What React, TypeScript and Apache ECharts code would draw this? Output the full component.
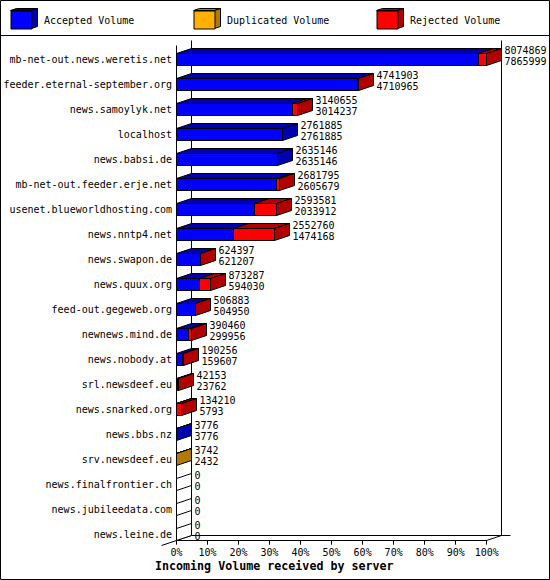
import React, { useEffect, useRef } from "react";
import * as echarts from "echarts";

const servers = [
  "mb-net-out.news.weretis.net", "feeder.eternal-september.org", "news.samoylyk.net", "localhost",
  "news.babsi.de", "mb-net-out.feeder.erje.net", "usenet.blueworldhosting.com", "news.nntp4.net",
  "news.swapon.de", "news.quux.org", "feed-out.gegeweb.org", "newnews.mind.de", "news.nobody.at",
  "srl.newsdeef.eu", "news.snarked.org", "news.bbs.nz", "srv.newsdeef.eu", "news.finalfrontier.ch",
  "news.jubileedata.com", "news.leine.de",
];
const totalVolume = [8074869, 4741903, 3140655, 2761885, 2635146, 2681795, 2593581, 2552760, 624397, 873287, 506883, 390460, 190256, 42153, 134210, 3776, 3742, 0, 0, 0];
const acceptedVolume = [7865999, 4710965, 3014237, 2761885, 2635146, 2605679, 2033912, 1474168, 621207, 594030, 504950, 299956, 159607, 23762, 5793, 3776, 2432, 0, 0, 0];
const duplicatedVolume = [0, 0, 0, 0, 0, 0, 0, 0, 0, 0, 0, 0, 0, 0, 0, 0, 1310, 0, 0, 0];
const rejectedVolume = [208870, 30938, 126418, 0, 0, 76116, 559669, 1078592, 3190, 279257, 1933, 90504, 30649, 18391, 128417, 0, 0, 0, 0, 0];

const FONT = "'DejaVu Sans Mono', 'Liberation Mono', monospace";
const DEPTH_X = 15;
const DEPTH_Y = 5;
const BAR_HALF = 6;
const maxVolume = Math.max(...totalVolume);

const kinds = [
  { name: "Accepted Volume", values: acceptedVolume, front: "#0000ff", dark: "#0000b0", legendX: 10.5 },
  { name: "Duplicated Volume", values: duplicatedVolume, front: "#ffb000", dark: "#b07a00", legendX: 193.5 },
  { name: "Rejected Volume", values: rejectedVolume, front: "#ff0000", dark: "#b00000", legendX: 376.5 },
];

const pct = (v: number) => (v / maxVolume) * 100;
const snap = (v: number) => Math.floor(v) + 0.5;

function buildSeries() {
  return kinds.map((kind, k) => {
    const data = servers.map((_, i) => {
      const before = kinds.slice(0, k).reduce((s, o) => s + o.values[i], 0);
      const later = kinds.slice(k + 1).reduce((s, o) => s + o.values[i], 0);
      return [pct(before), pct(before + kind.values[i]), i, later === 0 && (kind.values[i] > 0 || k === 0) ? 1 : 0];
    });
    return {
      type: "custom",
      name: kind.name,
      coordinateSystem: "cartesian2d",
      clip: false,
      itemStyle: { color: kind.front },
      encode: { x: [0, 1], y: 2 },
      data,
      renderItem: (_p: any, api: any) => {
        const from = api.value(0);
        const to = api.value(1);
        const row = api.value(2);
        const isLast = api.value(3) === 1;
        const hasSize = kind.values[row] > 0;
        if (!hasSize && !isLast) return { type: "group", children: [] };
        const a = api.coord([from, row]);
        const b = api.coord([to, row]);
        const x0 = snap(a[0]);
        const x1 = snap(b[0]);
        const top = snap(a[1] - BAR_HALF);
        const bottom = snap(a[1] + BAR_HALF);
        const line = { stroke: "#000", lineWidth: 1 };
        const children: any[] = [];
        if (hasSize) {
          children.push({
            type: "polygon",
            shape: { points: [[x0, top], [x0 + DEPTH_X, top - DEPTH_Y], [x1 + DEPTH_X, top - DEPTH_Y], [x1, top]] },
            style: { fill: kind.dark, ...line },
          });
          children.push({
            type: "rect",
            shape: { x: x0, y: top, width: x1 - x0, height: bottom - top },
            style: { fill: kind.front, ...line },
          });
        }
        if (isLast) {
          children.push({
            type: "polygon",
            shape: { points: [[x1, top], [x1 + DEPTH_X, top - DEPTH_Y], [x1 + DEPTH_X, bottom - DEPTH_Y], [x1, bottom]] },
            style: { fill: hasSize ? kind.dark : "#fff", ...line },
          });
          const tx = x1 + DEPTH_X + 3;
          children.push({
            type: "text",
            x: tx,
            y: Math.round(a[1]) - 9,
            style: { text: String(totalVolume[row]), font: `10px ${FONT}`, fill: "#000", verticalAlign: "middle", align: "left" },
          });
          children.push({
            type: "text",
            x: tx,
            y: Math.round(a[1]) + 2,
            style: { text: String(acceptedVolume[row]), font: `10px ${FONT}`, fill: "#000", verticalAlign: "middle", align: "left" },
          });
        }
        return { type: "group", children };
      },
    };
  });
}

function frameLine(x1: number, y1: number, x2: number, y2: number) {
  return { type: "line", silent: true, shape: { x1, y1, x2, y2 }, style: { stroke: "#000", lineWidth: 1 } };
}

function legendBox(x: number, dark: string) {
  const s = { fill: dark, stroke: "#000", lineWidth: 1 };
  return [
    { type: "polygon", silent: true, shape: { points: [[x, 10.5], [x + 6, 8.5], [x + 27, 8.5], [x + 21, 10.5]] }, style: s },
    { type: "polygon", silent: true, shape: { points: [[x + 21, 10.5], [x + 27, 8.5], [x + 27, 26.5], [x + 21, 28.5]] }, style: s },
  ];
}

export default function App() {
  const ref = useRef<HTMLDivElement>(null);
  useEffect(() => {
    document.body.style.margin = "0";
    const chart = echarts.init(ref.current!, null, { renderer: "svg" });
    chart.setOption({
      animation: false,
      backgroundColor: "#fff",
      title: {
        text: "Incoming Volume received by server",
        left: 155,
        top: 560,
        padding: 0,
        textStyle: { fontFamily: FONT, fontSize: 11.67, fontWeight: "bold", color: "#000" },
      },
      legend: kinds.map((k) => ({
        left: k.legendX,
        top: 10.5,
        padding: 0,
        icon: "rect",
        itemWidth: 21,
        itemHeight: 18,
        selectedMode: false,
        itemStyle: { borderColor: "#000", borderWidth: 1 },
        textStyle: { fontFamily: FONT, fontSize: 10, color: "#000", padding: [0, 0, 0, 7] },
        data: [k.name],
      })),
      grid: { left: 176.5, right: 63.3, top: 46.5, height: 500, containLabel: false },
      xAxis: {
        type: "value",
        min: 0,
        max: 100,
        interval: 10,
        offset: -5.8,
        splitLine: { show: false },
        axisLine: { show: true, lineStyle: { color: "#000", width: 1 } },
        axisTick: { show: true, length: 4, lineStyle: { color: "#000", width: 1 } },
        axisLabel: {
          margin: 7,
          hideOverlap: false,
          formatter: "{value}%",
          fontFamily: FONT,
          fontSize: 10,
          color: "#000",
        },
      },
      yAxis: {
        type: "category",
        inverse: true,
        data: servers,
        axisLine: { show: false },
        axisTick: { show: false },
        splitLine: { show: false },
        axisLabel: { interval: 0, margin: 4.5, fontFamily: FONT, fontSize: 10, color: "#000" },
      },
      graphic: [
        { type: "rect", silent: true, shape: { x: 0.5, y: 0.5, width: 549, height: 579 }, style: { fill: "none", stroke: "#000", lineWidth: 1 } },
        frameLine(0, 35.5, 550, 35.5),
        frameLine(176.5, 45.5, 176.5, 540.5),
        frameLine(191.5, 40.5, 191.5, 535.5),
        frameLine(501.5, 40.5, 501.5, 535.5),
        frameLine(191.5, 535.5, 510.5, 535.5),
        frameLine(161.5, 545.5, 191.5, 535.5),
        frameLine(486.5, 540.5, 501.5, 535.5),
        ...kinds.flatMap((k) => legendBox(k.legendX, k.dark)),
      ],
      series: buildSeries(),
    });
    return () => chart.dispose();
  }, []);
  return <div ref={ref} style={{ width: 550, height: 580 }} />;
}
